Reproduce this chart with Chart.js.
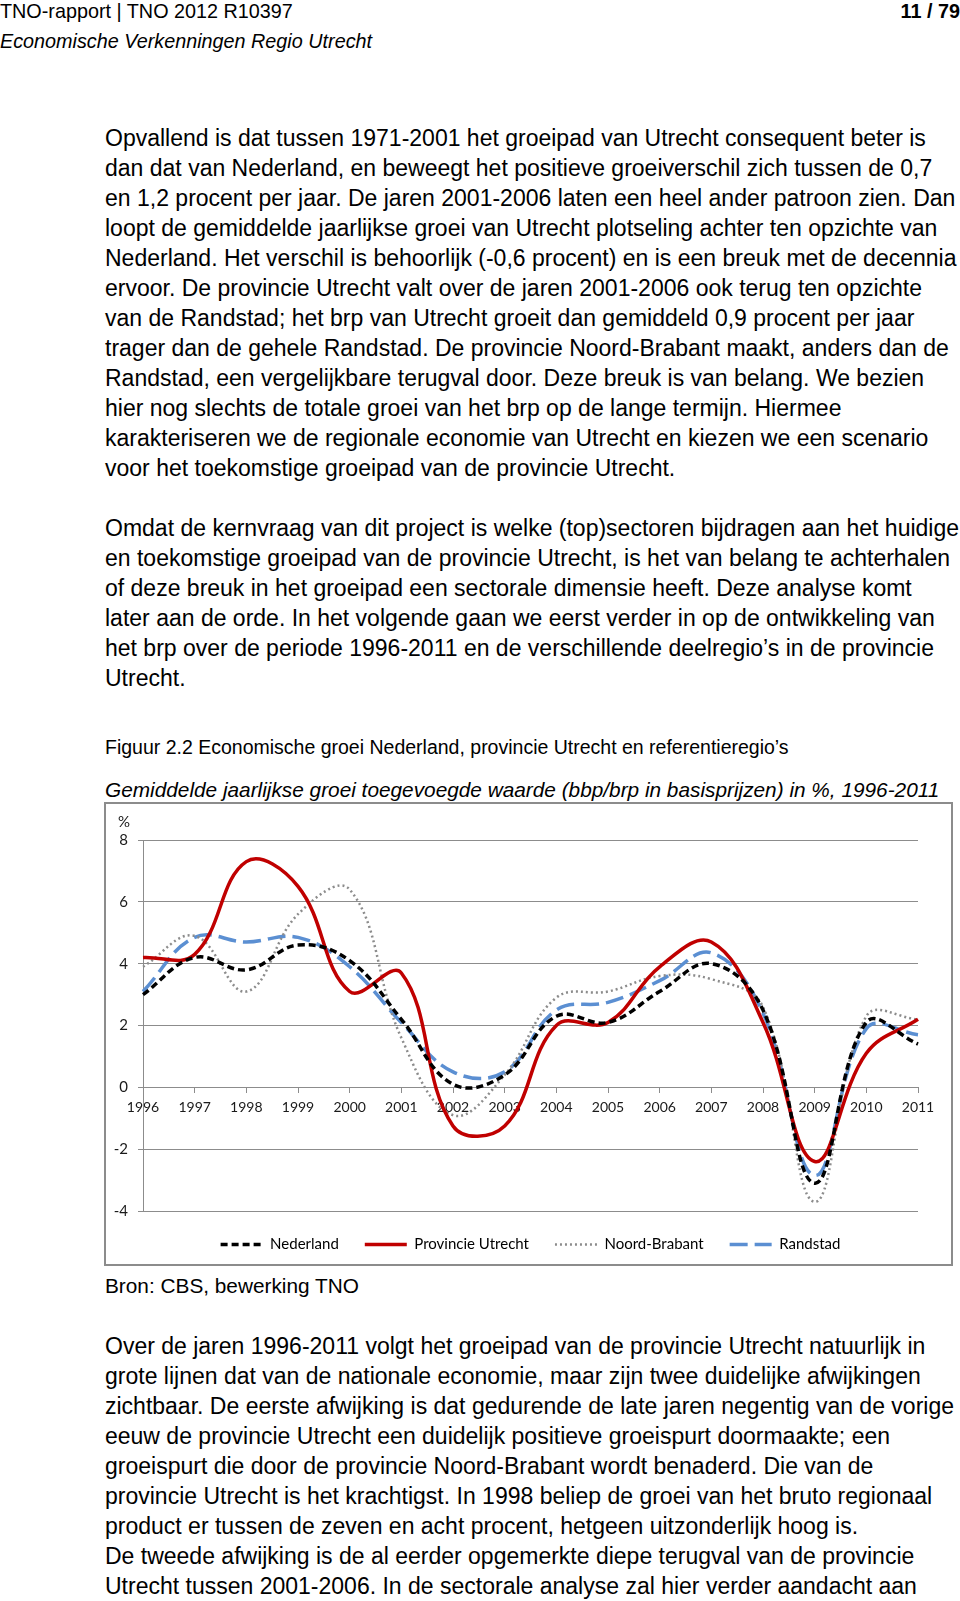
<!DOCTYPE html>
<html lang="nl">
<head>
<meta charset="utf-8">
<title>Figuur 2.2 Economische groei</title>
<script src="https://cdn.jsdelivr.net/npm/chart.js@4.4.1/dist/chart.umd.min.js"></script>
<style>
  html, body { margin: 0; padding: 0; background: #fff; }
  body { width: 960px; height: 1601px; position: relative; overflow: hidden; color: #000; font-family: "Liberation Sans", Arial, sans-serif; }
  .abs { position: absolute; white-space: nowrap; }
  .head { font-size: 19.8px; line-height: 22px; }
  .txt { left: 105px; font-size: 23px; line-height: 30px; }
  #box { position: absolute; left: 104px; top: 802px; width: 849px; height: 464px; box-sizing: border-box; border: 2px solid #8c8c8c; }
  #box canvas { display: block; }
</style>
</head>
<body>
<div class="abs head" style="left:0;top:0;">TNO-rapport | TNO 2012 R10397</div>
<div class="abs head" style="right:0;top:0;font-weight:bold;">11 / 79</div>
<div class="abs head" style="left:0;top:30px;font-style:italic;">Economische Verkenningen Regio Utrecht</div>

<div class="abs txt" style="top:123px;">
Opvallend is dat tussen 1971-2001 het groeipad van Utrecht consequent beter is<br>
dan dat van Nederland, en beweegt het positieve groeiverschil zich tussen de 0,7<br>
en 1,2 procent per jaar. De jaren 2001-2006 laten een heel ander patroon zien. Dan<br>
loopt de gemiddelde jaarlijkse groei van Utrecht plotseling achter ten opzichte van<br>
Nederland. Het verschil is behoorlijk (-0,6 procent) en is een breuk met de decennia<br>
ervoor. De provincie Utrecht valt over de jaren 2001-2006 ook terug ten opzichte<br>
van de Randstad; het brp van Utrecht groeit dan gemiddeld 0,9 procent per jaar<br>
trager dan de gehele Randstad. De provincie Noord-Brabant maakt, anders dan de<br>
Randstad, een vergelijkbare terugval door. Deze breuk is van belang. We bezien<br>
hier nog slechts de totale groei van het brp op de lange termijn. Hiermee<br>
karakteriseren we de regionale economie van Utrecht en kiezen we een scenario<br>
voor het toekomstige groeipad van de provincie Utrecht.
</div>

<div class="abs txt" style="top:513px;">
Omdat de kernvraag van dit project is welke (top)sectoren bijdragen aan het huidige<br>
en toekomstige groeipad van de provincie Utrecht, is het van belang te achterhalen<br>
of deze breuk in het groeipad een sectorale dimensie heeft. Deze analyse komt<br>
later aan de orde. In het volgende gaan we eerst verder in op de ontwikkeling van<br>
het brp over de periode 1996-2011 en de verschillende deelregio’s in de provincie<br>
Utrecht.
</div>

<div class="abs" style="left:105px;top:736px;font-size:19.5px;line-height:22px;">Figuur 2.2 Economische groei Nederland, provincie Utrecht en referentieregio’s</div>
<div class="abs" style="left:105px;top:778px;font-size:20.8px;line-height:24px;font-style:italic;">Gemiddelde jaarlijkse groei toegevoegde waarde (bbp/brp in basisprijzen) in %, 1996-2011</div>

<div id="box"><canvas id="grafiek" width="845" height="460"></canvas></div>

<div class="abs" style="left:105px;top:1271px;font-size:20.8px;line-height:30px;">Bron: CBS, bewerking TNO</div>

<div class="abs txt" style="top:1331px;">
Over de jaren 1996-2011 volgt het groeipad van de provincie Utrecht natuurlijk in<br>
grote lijnen dat van de nationale economie, maar zijn twee duidelijke afwijkingen<br>
zichtbaar. De eerste afwijking is dat gedurende de late jaren negentig van de vorige<br>
eeuw de provincie Utrecht een duidelijk positieve groeispurt doormaakte; een<br>
groeispurt die door de provincie Noord-Brabant wordt benaderd. Die van de<br>
provincie Utrecht is het krachtigst. In 1998 beliep de groei van het bruto regionaal<br>
product er tussen de zeven en acht procent, hetgeen uitzonderlijk hoog is.<br>
De tweede afwijking is de al eerder opgemerkte diepe terugval van de provincie<br>
Utrecht tussen 2001-2006. In de sectorale analyse zal hier verder aandacht aan
</div>

<script>
// jaren en groeicijfers (% per jaar)
const jaren = ["1996", "1997", "1998", "1999", "2000", "2001", "2002", "2003",
               "2004", "2005", "2006", "2007", "2008", "2009", "2010", "2011"];
const nederland    = [3.0, 4.2, 3.8, 4.6, 4.1, 2.2, 0.1, 0.4, 2.3, 2.1, 3.1, 4.0, 2.5, -3.1, 2.1, 1.4];
const utrecht      = [4.2, 4.3, 7.3, 6.5, 3.1, 3.7, -1.25, -1.25, 2.0, 2.1, 3.9, 4.7, 2.1, -2.4, 1.1, 2.2];
const noordBrabant = [3.9, 4.9, 3.1, 5.6, 6.4, 1.6, -0.9, 0.4, 2.9, 3.1, 3.6, 3.5, 2.6, -3.7, 2.3, 2.2];
const randstad     = [3.1, 4.85, 4.7, 4.85, 3.9, 2.1, 0.5, 0.5, 2.5, 2.75, 3.45, 4.35, 2.4, -2.85, 1.9, 1.7];
const yTicks = [8, 6, 4, 2, 0, -2, -4];

const grijs = "#8c8c8c";
const fontLabel = { family: "Lato", size: 15 };

function lijn(label, data, kleur, breedte, dash) {
    return {
        label: label,
        data: data,
        borderColor: kleur,
        backgroundColor: kleur,
        borderWidth: breedte,
        borderDash: dash,
        pointRadius: 0,
        fill: false,
        tension: 0.4
    };
}

// "%" staat boven de y-as, iets rechts van de rand
const procentTitel = {
    id: "procentTitel",
    afterLayout(chart) {
        if (chart.titleBlock) chart.titleBlock.left = 12;
    }
};

new Chart(document.getElementById("grafiek").getContext("2d"), {
    type: "line",
    data: {
        labels: jaren,
        datasets: [
            lijn("Nederland", nederland, "#000000", 3.5, [7, 4]),
            lijn("Provincie Utrecht", utrecht, "#c00000", 3.5, []),
            lijn("Noord-Brabant", noordBrabant, "#8c8c8c", 2.5, [2, 3]),
            lijn("Randstad", randstad, "#5b8fd2", 3.5, [18, 7])
        ]
    },
    plugins: [procentTitel],
    options: {
        responsive: false,
        animation: false,
        layout: { padding: { left: 0, top: 0, right: 33, bottom: 7 } },
        scales: {
            x: {
                type: "category",
                position: { y: 0 },
                offset: false,
                grid: { drawOnChartArea: false, drawTicks: true, tickLength: 5, color: grijs },
                border: { color: grijs },
                ticks: { font: { family: "Lato", size: 14 }, color: "#1a1a1a", padding: 7, maxRotation: 0, autoSkip: false }
            },
            y: {
                min: -4,
                max: 8,
                afterBuildTicks: s => { s.ticks = yTicks.map(v => ({ value: v })); },
                afterFit: s => { s.width = 37; },
                grid: { color: grijs, drawTicks: true, tickLength: 5 },
                border: { color: grijs },
                ticks: { font: { family: "Lato", size: 15 }, color: "#1a1a1a", padding: 10, callback: v => String(v) }
            }
        },
        plugins: {
            title: {
                display: true,
                text: "%",
                align: "start",
                color: "#1a1a1a",
                font: { family: "Lato", size: 15, weight: "normal" },
                padding: { top: 9, bottom: 9 }
            },
            legend: {
                position: "bottom",
                fullSize: false,
                maxHeight: 46,
                labels: {
                    font: fontLabel,
                    color: "#1a1a1a",
                    usePointStyle: true,
                    pointStyleWidth: 42,
                    boxWidth: 42,
                    boxHeight: 15,
                    padding: 26,
                    generateLabels: chart => chart.data.datasets.map((ds, i) => ({
                        text: ds.label,
                        datasetIndex: i,
                        hidden: false,
                        pointStyle: "line",
                        strokeStyle: ds.borderColor,
                        fillStyle: ds.borderColor,
                        lineWidth: ds.borderWidth,
                        lineDash: ds.borderDash,
                        lineCap: "butt"
                    }))
                }
            },
            tooltip: { enabled: false }
        }
    }
});
</script>
</body>
</html>
